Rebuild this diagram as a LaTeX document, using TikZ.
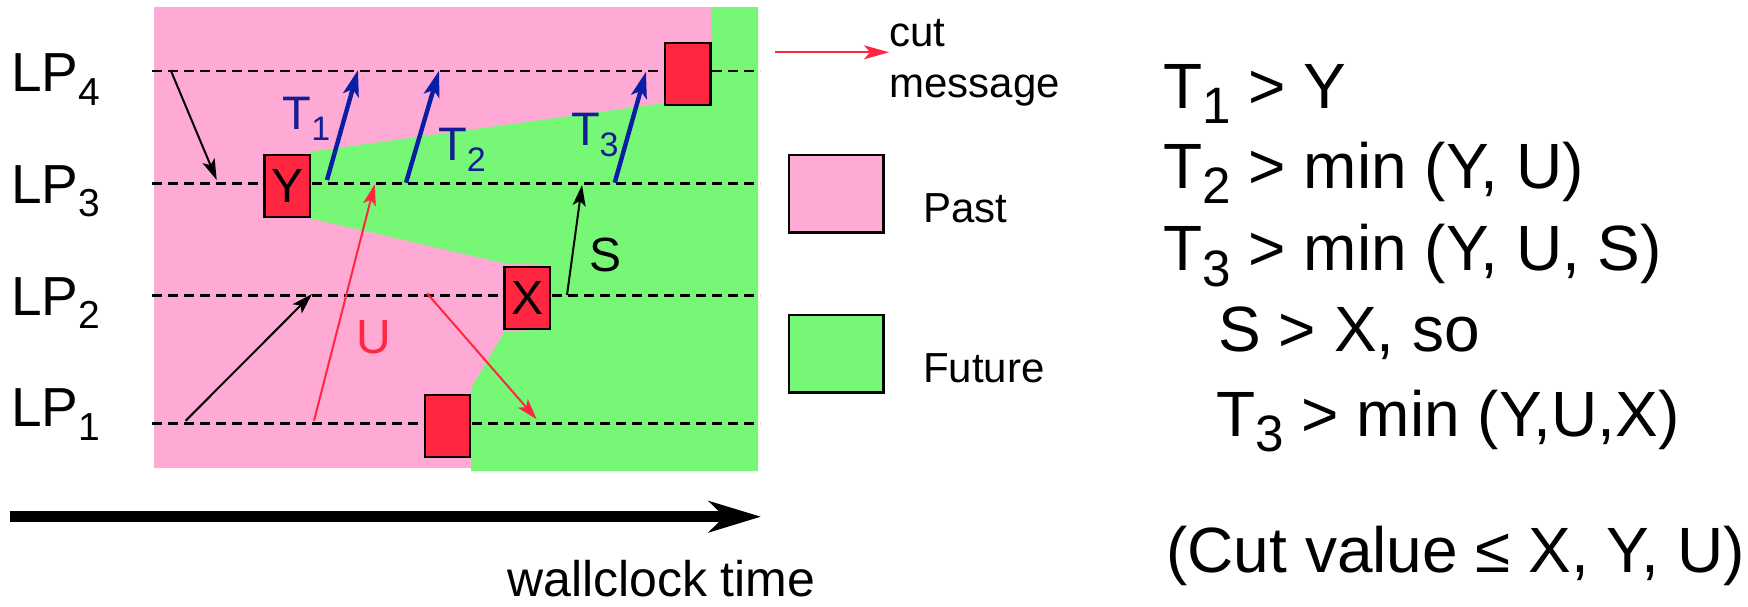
\documentclass[tikz,border=0pt]{standalone}
\usepackage{fontspec}
\setmainfont{Liberation Sans}
\usetikzlibrary{arrows.meta}
\definecolor{pastpink}{RGB}{255,170,213}
\definecolor{futgreen}{RGB}{118,248,118}
\definecolor{evred}{RGB}{255,38,66}
\definecolor{msgblue}{RGB}{8,30,165}
\definecolor{lblblue}{RGB}{18,30,150}
% lowered, smaller index: #1 drop, #2 size, #3 text
\newcommand{\lowidx}[3]{\raisebox{-#1}{\fontsize{#2}{#2}\selectfont #3}}

\begin{document}
\begin{tikzpicture}[x=0.5pt,y=-0.5pt,
  timeline/.style={dash pattern=on 5pt off 3pt, line width=1.2pt},
  evt/.style={draw, fill=evred, line width=1.2pt, minimum width=22.75pt,
    minimum height=31pt, inner sep=0pt, font=\fontsize{24pt}{28pt}\selectfont},
  thinmsg/.style={line width=1pt, -{Stealth[length=10.5pt,width=6.5pt,inset=2.5pt]}},
  redmsg/.style={thinmsg, draw=evred},
  bluemsg/.style={line width=2.2pt, draw=msgblue, -{Stealth[length=13pt,width=8pt,inset=3pt]}},
  lbl/.style={anchor=base west, inner sep=0pt},
  lplbl/.style={lbl, font=\fontsize{27.5pt}{32pt}\selectfont},
  tlbl/.style={lbl, text=lblblue, font=\fontsize{23.5pt}{28pt}\selectfont},
  legtxt/.style={lbl, font=\fontsize{21pt}{25pt}\selectfont},
  eqtxt/.style={lbl, font=\fontsize{32pt}{38pt}\selectfont},
  legbox/.style={draw, line width=1.3pt, minimum width=47.2pt, minimum height=38.8pt, inner sep=0pt}
]
\useasboundingbox (0,0) rectangle (1748,606);

% past and future regions
\fill[pastpink] (154,7) rectangle (711,468);
\fill[futgreen] (711,7) -- (711,105) -- (665,103) -- (310,151.7) -- (310,218.3)
  -- (504.5,263.3) -- (550,265) -- (550,329) -- (504.5,331.7) -- (471,388.3)
  -- (471,471) -- (758,471) -- (758,7) -- cycle;

% timelines of the four processes
\foreach \n/\y in {4/71,3/183.3,2/295.3,1/423.3}{
  \coordinate (lp\n a) at (152,\y);
  \coordinate (lp\n b) at (760,\y);
  \draw[timeline] (lp\n a) -- (lp\n b);
}

% process labels
\node[lplbl] (lp4) at (11,91.7)  {LP\lowidx{6.9pt}{19.5pt}{4}};
\node[lplbl] (lp3) at (11,203)   {LP\lowidx{6.9pt}{19.5pt}{3}};
\node[lplbl] (lp2) at (11,315)   {LP\lowidx{6.9pt}{19.5pt}{2}};
\node[lplbl] (lp1) at (11,426.7) {LP\lowidx{6.9pt}{19.5pt}{1}};

% messages
\coordinate (m1s) at (170.6,70);   \coordinate (m1e) at (216.7,180);
\coordinate (m2s) at (185.7,420.7); \coordinate (m2e) at (312,294);
\coordinate (us) at (314,420.7);   \coordinate (ue) at (374.7,184.3);
\coordinate (m3s) at (427,293.3);  \coordinate (m3e) at (536.7,419.3);
\coordinate (ss) at (567,295);     \coordinate (se) at (582,185);
\coordinate (t1s) at (327,180);    \coordinate (t1e) at (358,70);
\coordinate (t2s) at (406,182.7);  \coordinate (t2e) at (439,70.7);
\coordinate (t3s) at (614.7,182.7); \coordinate (t3e) at (646,71.7);

\draw[thinmsg] (m1s) -- (m1e);
\draw[thinmsg] (m2s) -- (m2e);
\draw[redmsg] (us) -- (ue);
\draw[redmsg] (m3s) -- (m3e);
\draw[thinmsg] (ss) -- (se);
\draw[bluemsg] (t1s) -- (t1e);
\draw[bluemsg] (t2s) -- (t2e);
\draw[bluemsg] (t3s) -- (t3e);

% events
\node[evt] (Y) at (287.3,186.2) {Y};
\node[evt] (X) at (527.3,298) {X};
\node[evt] (e1) at (447.5,425.8) {};
\node[evt] (e4) at (687.8,74) {};

% message labels
\node[tlbl] (T1) at (282.3,129) {T\lowidx{5.8pt}{17pt}{1}};
\node[tlbl] (T2) at (437.7,160) {T\lowidx{5.8pt}{17pt}{2}};
\node[tlbl] (T3) at (570.6,145) {T\lowidx{5.8pt}{17pt}{3}};
\node[lbl, font=\fontsize{24pt}{28pt}\selectfont] (S) at (589,271.7) {S};
\node[lbl, text=evred, font=\fontsize{24pt}{28pt}\selectfont] (U) at (356,353) {U};

% legend
\node[legtxt] (cut) at (889,46.7) {cut};
\node[legtxt] (msg) at (889,97) {message};
\coordinate (cutA) at (775,52.3);
\draw[draw=evred, line width=0.9pt, -{Stealth[length=12.5pt,width=7pt,inset=3pt]}] (cutA) -- (cutA -| cut.west);
\node[legbox, fill=pastpink] (pastbox) at (836.2,193.8) {};
\node[legbox, fill=futgreen] (futbox) at (836.2,353.8) {};
\node[legtxt] (past) at (922.7,222.7) {Past};
\node[legtxt] (fut) at (922.7,382.7) {Future};

% time axis
\coordinate (ax0) at (10,516.7);
\coordinate (ax1) at (761,516.7);
\draw[line width=5.3pt, -{Stealth[length=26pt,width=15.5pt,inset=7.75pt]}] (ax0) -- (ax1);
\node[lbl, font=\fontsize{25pt}{30pt}\selectfont] (wc) at (506.7,596) {wallclock time};

% reasoning
\node[eqtxt] (q1) at (1163,108)   {T\lowidx{7.9pt}{25.6pt}{1} > Y};
\node[eqtxt] (q2) at (1163,188)   {T\lowidx{7.9pt}{25.6pt}{2} > min (Y, U)};
\node[eqtxt] (q3) at (1163,270.7) {T\lowidx{7.9pt}{25.6pt}{3} > min (Y, U, S)};
\node[eqtxt] (q4) at (1218,351)   {S > X, so};
\node[eqtxt] (q5) at (1216,436)   {T\lowidx{7.9pt}{25.6pt}{3} > min (Y,U,X)};
\node[eqtxt] (q6) at (1166,572)   {(Cut value ≤ X, Y, U)};
\end{tikzpicture}
\end{document}
